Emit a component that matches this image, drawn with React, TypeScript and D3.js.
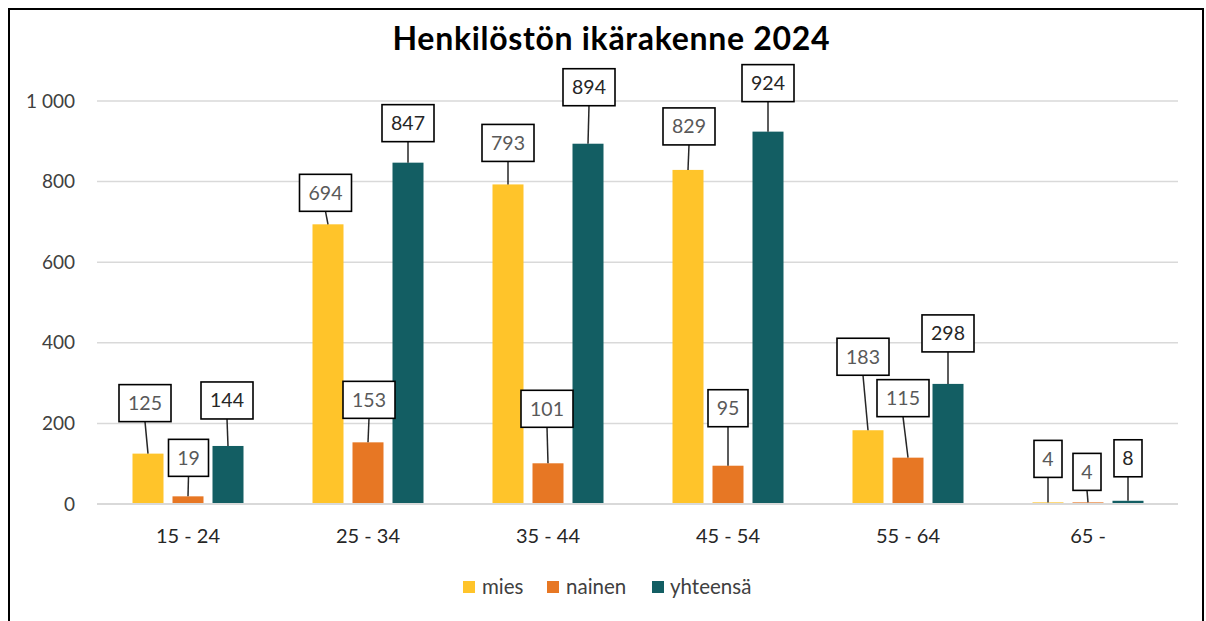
import React from "react";
import * as d3 from "d3";

// ---- data ----
const categories = ["15 - 24", "25 - 34", "35 - 44", "45 - 54", "55 - 64", "65 -"];
const seriesNames = ["mies", "nainen", "yhteensä"];
const mies = [125, 694, 793, 829, 183, 4];
const nainen = [19, 153, 101, 95, 115, 4];
const yhteensa = [144, 847, 894, 924, 298, 8];
const yTicks = [0, 200, 400, 600, 800, 1000];
const title = "Henkilöstön ikärakenne 2024";

// ---- styling / layout (callout placement as manually arranged in the original) ----
const colors = ["#FFC42A", "#E77724", "#135E63"];
const labelColors = ["#595959", "#595959", "#262626"];
// horizontal shift of callout box from bar centre, and gap from box bottom to bar top
const calloutDx = [
  [-3, -2.5, 0, 1, -5, 0],
  [0.5, 1, -1, 0, -5, -1],
  [-1, 0, 1, 0, 0, 0],
];
const calloutGap = [
  [32, 13, 23, 25, 55, 25],
  [20, 24, 36, 39, 41, 12],
  [27, 21, 38, 30, 32, 24],
];

const W = 1206;
const H = 621;
const FONT = "Lato, 'Open Sans', sans-serif";

export default function App() {
  const values = [mies, nainen, yhteensa];
  const y = d3.scaleLinear().domain([0, 1000]).range([504, 101]);
  const x0 = d3.scaleBand<string>().domain(categories).range([98, 1178]).padding(0);
  const x1 = d3
    .scaleBand<string>()
    .domain(seriesNames)
    .range([0, x0.bandwidth()])
    .paddingInner(0.225)
    .paddingOuter(0.8625);
  const fmt = d3.formatLocale({ decimal: ",", thousands: "\u00a0", grouping: [3], currency: ["", "€"] }).format(",d");

  const boxH = 37;

  return (
    <svg
      width={W}
      height={H}
      style={{ position: "absolute", left: 0, top: 0, background: "#fff" }}
      fontFamily={FONT}
    >
      <rect x={0} y={0} width={W} height={H} fill="#fff" />
      <rect x={9} y={9} width={1194} height={700} fill="none" stroke="#000" strokeWidth={2} />

      <text x={611} y={50} textAnchor="middle" fontSize={32} fontWeight={700} fill="#000" textLength={437} lengthAdjust="spacing">
        {title}
      </text>

      {/* gridlines + y tick labels */}
      {yTicks.map((t) => (
        <g key={t}>
          {t !== 0 && <line x1={97} x2={1178} y1={y(t)} y2={y(t)} stroke="#D9D9D9" strokeWidth={1.5} />}
          <text x={75} y={y(t)} dy="0.35em" textAnchor="end" fontSize={19} fill="#404040">
            {fmt(t)}
          </text>
        </g>
      ))}

      {/* category labels */}
      {categories.map((c) => (
        <text key={c} x={x0(c)! + x0.bandwidth() / 2} y={543} textAnchor="middle" fontSize={20} fill="#262626">
          {c}
        </text>
      ))}

      {/* bars */}
      {seriesNames.map((s, si) => (
        <g key={s}>
          {categories.map((c, ci) => {
            const v = values[si][ci];
            return (
              <rect
                key={c}
                x={x0(c)! + x1(s)!}
                y={y(v)}
                width={x1.bandwidth()}
                height={y(0) - y(v)}
                fill={colors[si]}
              />
            );
          })}
        </g>
      ))}

      {/* category axis line */}
      <line x1={97} x2={1178} y1={y(0)} y2={y(0)} stroke="#D9D9D9" strokeWidth={2} />

      {/* callout labels */}
      {seriesNames.map((s, si) => (
        <g key={s}>
          {categories.map((c, ci) => {
            const v = values[si][ci];
            const cx = x0(c)! + x1(s)! + x1.bandwidth() / 2;
            const top = y(v);
            const txt = String(v);
            const bw = 12 * txt.length + 16;
            const bcx = cx + calloutDx[si][ci];
            const bBottom = top - calloutGap[si][ci];
            const bTop = bBottom - boxH;
            return (
              <g key={c}>
                <line x1={bcx} y1={bBottom} x2={cx} y2={top} stroke="#262626" strokeWidth={1.5} />
                <rect x={bcx - bw / 2} y={bTop} width={bw} height={boxH} fill="#fff" stroke="#000" strokeWidth={1.6} />
                <text x={bcx} y={bTop + boxH / 2} dy="0.36em" textAnchor="middle" fontSize={19.5} fill={labelColors[si]}>
                  {txt}
                </text>
              </g>
            );
          })}
        </g>
      ))}

      {/* legend */}
      {(() => {
        const items = [
          { x: 463, tx: 482 },
          { x: 547, tx: 566 },
          { x: 652, tx: 670 },
        ];
        return seriesNames.map((s, i) => (
          <g key={s}>
            <rect x={items[i].x} y={581} width={12} height={12} fill={colors[i]} />
            <text x={items[i].tx} y={594} fontSize={20.5} fill="#404040">
              {s}
            </text>
          </g>
        ));
      })()}
    </svg>
  );
}
